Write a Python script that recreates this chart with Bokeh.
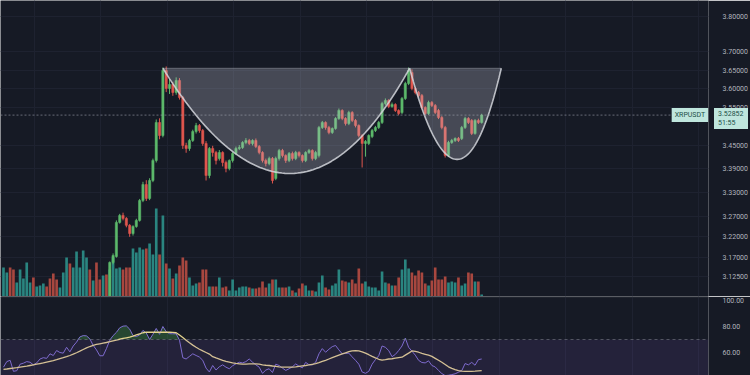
import numpy as np
from bokeh.plotting import figure
from bokeh.layouts import column
from bokeh.models import (Range1d, FixedTicker, PrintfTickFormatter, Label, Span,
                          BoxAnnotation, LinearScale, Div)
from bokeh.embed import file_html
from bokeh.resources import INLINE

# ---------------- data (XRPUSDT candles) ----------------
opens = [2.930, 2.938, 2.945, 2.936, 2.928, 2.934, 2.944, 2.950, 2.964, 2.969,
         2.961, 2.966, 2.974, 2.980, 2.975, 2.968, 2.962, 2.958, 2.965, 2.976,
         2.992, 2.984, 2.998, 3.018, 3.032, 3.052, 3.064, 3.050, 3.056, 3.044,
         3.038, 3.072, 3.066, 3.1585, 3.1727, 3.2551, 3.2722, 3.2649, 3.2478, 3.2280,
         3.2450, 3.2600, 3.3092, 3.3491, 3.3142, 3.3592, 3.4102, 3.5090, 3.4748, 3.6488,
         3.5998, 3.6107, 3.5890, 3.6215, 3.5755, 3.4488, 3.4410, 3.4618, 3.4853, 3.5011,
         3.4879, 3.4540, 3.3719, 3.4410, 3.4307, 3.4153, 3.4307, 3.4050, 3.3897, 3.4102,
         3.4281, 3.4410, 3.4436, 3.4566, 3.4618, 3.4540, 3.4618, 3.4462, 3.4307, 3.4102,
         3.4025, 3.4153, 3.3643, 3.4153, 3.4359, 3.4230, 3.4102, 3.4281, 3.4153, 3.4307,
         3.4230, 3.4102, 3.4307, 3.4359, 3.4153, 3.4230, 3.4958, 3.5090, 3.4958, 3.4827,
         3.4932, 3.5195, 3.5408, 3.5195, 3.5063, 3.5354, 3.5143, 3.5011, 3.4748, 3.4540,
         3.4540, 3.4722, 3.4879, 3.4958, 3.5090, 3.5594, 3.5675, 3.5514, 3.5568, 3.5408,
         3.5354, 3.5728, 3.6134, 3.6434, 3.5998, 3.5890, 3.5809, 3.5487, 3.5328, 3.5621,
         3.5541, 3.5408, 3.5222, 3.4958, 3.4230, 3.4566, 3.4618, 3.4670, 3.4670, 3.4958,
         3.5195, 3.5143, 3.4801, 3.5143, 3.5090]
highs = [2.942, 2.949, 2.948, 2.940, 2.938, 2.948, 2.954, 2.968, 2.973, 2.972,
         2.970, 2.978, 2.984, 2.984, 2.979, 2.972, 2.966, 2.969, 2.980, 2.996,
         2.996, 3.002, 3.022, 3.036, 3.056, 3.068, 3.068, 3.060, 3.060, 3.048,
         3.076, 3.076, 3.1610, 3.1800, 3.2600, 3.2760, 3.2790, 3.2680, 3.2510, 3.2480,
         3.2640, 3.3130, 3.3560, 3.3600, 3.3650, 3.4150, 3.5170, 3.5200, 3.6571, 3.6600,
         3.6250, 3.6180, 3.6300, 3.6280, 3.5800, 3.4560, 3.4660, 3.4900, 3.5080, 3.5050,
         3.4920, 3.4600, 3.4450, 3.4480, 3.4350, 3.4370, 3.4340, 3.4100, 3.4130, 3.4320,
         3.4460, 3.4500, 3.4600, 3.4680, 3.4660, 3.4650, 3.4670, 3.4500, 3.4340, 3.4150,
         3.4200, 3.4190, 3.4200, 3.4400, 3.4400, 3.4260, 3.4320, 3.4330, 3.4350, 3.4340,
         3.4260, 3.4340, 3.4400, 3.4390, 3.4350, 3.5000, 3.5130, 3.5120, 3.5000, 3.4960,
         3.5230, 3.5460, 3.5440, 3.5230, 3.5400, 3.5390, 3.5180, 3.5040, 3.4780, 3.4630,
         3.4780, 3.4920, 3.5000, 3.5130, 3.5640, 3.5730, 3.5710, 3.5620, 3.5600, 3.5440,
         3.5770, 3.6180, 3.6571, 3.6520, 3.6040, 3.5930, 3.5850, 3.5520, 3.5670, 3.5660,
         3.5580, 3.5450, 3.5260, 3.5000, 3.4610, 3.4660, 3.4700, 3.4710, 3.5000, 3.5240,
         3.5230, 3.5180, 3.5180, 3.5190, 3.5320]
lows = [2.926, 2.934, 2.932, 2.924, 2.924, 2.930, 2.940, 2.946, 2.960, 2.957,
        2.957, 2.962, 2.970, 2.971, 2.964, 2.958, 2.954, 2.954, 2.961, 2.972,
        2.980, 2.980, 2.994, 3.014, 3.028, 3.048, 3.046, 3.046, 3.040, 3.034,
        3.034, 3.062, 3.0620, 3.1540, 3.1700, 3.2520, 3.2600, 3.2430, 3.2200, 3.2230,
        3.2420, 3.2570, 3.3050, 3.3080, 3.3100, 3.3550, 3.4050, 3.4650, 3.4700, 3.5900,
        3.5850, 3.5800, 3.5830, 3.5700, 3.4400, 3.4300, 3.4350, 3.4580, 3.4800, 3.4820,
        3.4480, 3.3592, 3.3650, 3.4200, 3.4000, 3.4100, 3.3950, 3.3800, 3.3850, 3.4050,
        3.4240, 3.4370, 3.4400, 3.4520, 3.4500, 3.4490, 3.4420, 3.4260, 3.4050, 3.3950,
        3.3980, 3.3517, 3.3600, 3.4100, 3.4180, 3.4040, 3.4060, 3.4100, 3.4110, 3.4180,
        3.4050, 3.4060, 3.4270, 3.4100, 3.4110, 3.4180, 3.4920, 3.4900, 3.4780, 3.4790,
        3.4900, 3.5160, 3.5150, 3.5010, 3.5020, 3.5100, 3.4960, 3.4700, 3.3923, 3.4200,
        3.4500, 3.4680, 3.4840, 3.4920, 3.5050, 3.5550, 3.5470, 3.5480, 3.5370, 3.5280,
        3.5310, 3.5690, 3.6090, 3.5950, 3.5840, 3.5760, 3.5440, 3.5280, 3.5290, 3.5500,
        3.5310, 3.5180, 3.4910, 3.4178, 3.4190, 3.4530, 3.4580, 3.4580, 3.4630, 3.4920,
        3.5050, 3.4760, 3.4770, 3.5050, 3.5060]
closes = [2.938, 2.945, 2.936, 2.928, 2.934, 2.944, 2.950, 2.964, 2.969, 2.961,
          2.966, 2.974, 2.980, 2.975, 2.968, 2.962, 2.958, 2.965, 2.976, 2.992,
          2.984, 2.998, 3.018, 3.032, 3.052, 3.064, 3.050, 3.056, 3.044, 3.038,
          3.072, 3.066, 3.1585, 3.1751, 3.2551, 3.2722, 3.2649, 3.2478, 3.2280, 3.2450,
          3.2600, 3.3092, 3.3491, 3.3142, 3.3592, 3.4102, 3.5090, 3.4748, 3.6488, 3.5998,
          3.6107, 3.5890, 3.6215, 3.5755, 3.4488, 3.4410, 3.4618, 3.4853, 3.5011, 3.4879,
          3.4540, 3.3719, 3.4410, 3.4307, 3.4102, 3.4307, 3.4050, 3.3897, 3.4102, 3.4281,
          3.4410, 3.4436, 3.4566, 3.4618, 3.4540, 3.4618, 3.4462, 3.4307, 3.4102, 3.4025,
          3.4153, 3.3592, 3.4153, 3.4359, 3.4230, 3.4102, 3.4281, 3.4153, 3.4307, 3.4230,
          3.4102, 3.4307, 3.4359, 3.4153, 3.4307, 3.4958, 3.5090, 3.4958, 3.4827, 3.4932,
          3.5195, 3.5408, 3.5195, 3.5063, 3.5354, 3.5143, 3.5011, 3.4748, 3.4540, 3.4592,
          3.4748, 3.4879, 3.4958, 3.5090, 3.5594, 3.5675, 3.5514, 3.5568, 3.5408, 3.5328,
          3.5728, 3.6134, 3.6488, 3.5998, 3.5890, 3.5809, 3.5487, 3.5328, 3.5621, 3.5541,
          3.5354, 3.5222, 3.4958, 3.4230, 3.4566, 3.4618, 3.4670, 3.4618, 3.4958, 3.5195,
          3.5090, 3.4801, 3.5143, 3.5090, 3.52852]
volumes_m = [2.9, 2.4, 2.9, 2.7, 1.4, 2.7, 1.8, 3.4, 1.4, 1.9,
             1.0, 1.1, 1.3, 1.0, 1.8, 2.3, 1.7, 0.9, 2.4, 3.9,
             3.3, 2.9, 4.5, 2.9, 4.6, 3.9, 2.7, 1.6, 3.4, 1.7,
             2.1, 2.2, 2.7, 3.9, 2.8, 2.9, 2.7, 2.9, 2.9, 4.8,
             4.4, 4.9, 4.7, 4.8, 5.3, 4.2, 8.8, 4.2, 8.1, 3.3,
             2.8, 1.8, 2.3, 3.1, 3.9, 3.6, 1.9, 1.1, 1.3, 1.4,
             2.7, 2.7, 1.0, 1.0, 1.0, 1.9, 0.9, 1.0, 0.6, 1.7,
             0.6, 0.9, 1.0, 1.0, 0.9, 0.8, 0.8, 0.9, 1.5, 0.9,
             1.3, 1.7, 1.7, 0.9, 0.9, 0.9, 1.0, 0.6, 0.4, 0.8,
             1.3, 1.1, 0.6, 0.6, 0.5, 1.4, 2.1, 0.9, 0.7, 1.1,
             1.3, 2.7, 1.6, 1.5, 1.4, 1.7, 1.3, 2.8, 1.3, 1.5,
             1.0, 0.9, 0.9, 0.6, 2.5, 1.4, 1.3, 1.1, 1.1, 1.9,
             2.7, 3.7, 2.8, 2.4, 2.1, 2.6, 2.4, 1.3, 1.1, 1.6,
             2.9, 1.7, 1.7, 2.0, 1.4, 1.5, 1.4, 1.9, 1.1, 1.3,
             2.4, 2.3, 1.5, 1.5, 0.2]
rsi = [48.7, 53, 54, 45.5, 46, 51, 51.8, 53, 52.5, 50.5,
       52, 55, 56, 55.5, 59, 57.7, 61.5, 60, 59.5, 64,
       60.5, 65, 68, 72, 73, 72.8, 70.5, 65.5, 62, 57.5,
       57.5, 63, 69.5, 73, 75.5, 79, 80.3, 80.5, 78, 73,
       72.3, 73.5, 77, 75, 70, 74, 78.5, 74, 80, 76,
       74.5, 74.4, 74.4, 69.5, 56, 55, 57, 59, 57.7, 56.5,
       54, 48, 45, 50, 46.5, 49, 50.5, 48.7, 47.5, 49.8,
       51.3, 52.5, 52, 53, 55, 52.5, 50.5, 48.7, 44, 46.5,
       47.5, 44.6, 51, 50, 48, 46.2, 47.5, 49, 51.2, 49.5,
       48.2, 52.4, 50.6, 50.5, 52.5, 59, 63, 60.2, 62.5, 64.5,
       65.4, 62, 59, 59.3, 59.5, 56.6, 54, 51, 45, 44,
       45.5, 51, 54.5, 57.5, 65, 64, 61.5, 56.8, 58.5, 61.5,
       65, 71, 64, 61, 58, 54, 52.3, 52, 53.6, 50,
       48.9, 46.2, 43.8, 42.2, 42.5, 43, 43.6, 44.8, 46, 51.5,
       50.5, 52.4, 50.2, 54.5, 55]
rsi_ma = [47, 47.3, 47.7, 48, 48.3, 48.7, 49.1, 49.5, 50, 50.5,
          51, 51.5, 52, 52.6, 53.2, 53.8, 54.5, 55.3, 56, 56.8,
          57.7, 58.7, 59.8, 61, 62.3, 63.5, 64.6, 65.5, 66.2, 66.7,
          67.2, 67.7, 68.3, 69, 69.6, 70.2, 70.8, 71.3, 71.8, 72.6,
          73.5, 74.4, 75.2, 75.6, 75.6, 75.6, 75.6, 75.6, 75.6, 75.6,
          75.6, 75.5, 75.2, 73.5, 71.5, 69.5, 67.5, 65.7, 64, 62.5,
          61.2, 60, 58.8, 56.8, 55.8, 54.9, 54, 53.2, 52.6, 52,
          51.6, 51.3, 51, 51, 51.2, 51.3, 51.2, 51, 50.5, 50.2,
          50, 49.6, 49.3, 49, 48.8, 48.7, 48.7, 48.8, 49, 49.3,
          49.7, 50, 50.4, 50.9, 51.4, 52.2, 53.1, 54, 55, 56,
          57, 58, 59, 59.8, 60.6, 61.3, 61.5, 61.2, 60.5, 59.5,
          58.3, 57, 55.8, 54.8, 54.2, 54.5, 55, 55.2, 55.6, 56,
          56.4, 58, 59.5, 61.2, 60.8, 60.2, 59.3, 58.6, 57.9, 57,
          55.5, 54, 52.5, 50.8, 49, 47.8, 46.8, 46, 45.7, 45.5,
          45.5, 45.5, 45.6, 45.8, 46]

price_ticks = [3.80, 3.70, 3.65, 3.60, 3.55, 3.45, 3.39, 3.33, 3.27, 3.22, 3.17, 3.125]
rsi_ticks = [60, 80, 100]
time_grid_idx = [9.3, 29.3, 49.3, 69.3, 89.3, 109.3, 129.3, 149.3, 169.3, 189.3, 209.3]

# cup-and-handle drawing (two arc tools): start, bottom, end anchors
cup_idx = [48.0, 86.2, 122.3]
cup_price = [3.655, 3.377, 3.655]
handle_idx = [122.3, 136.6, 149.9]
handle_price = [3.655, 3.413, 3.655]

symbol = "XRPUSDT"
countdown = "51:55"

# ---------------- styling ----------------
BG = "#161a25"
GRID = "#1e2230"
UP, DOWN = "#5cb96b", "#e0564e"
VUP, VDOWN = "#2a8580", "#a8473f"
AXIS_TXT = "#b2b5be"
FONT = "Roboto"
TAG_BG, TAG_TXT = "#bfe6dd", "#1d4f47"

W, H1, H2 = 750, 296, 79
RIGHT = 40

n = len(opens)
idx = list(range(n))
up = [c >= o for o, c in zip(opens, closes)]
ccol = [UP if u else DOWN for u in up]
vcol = [VUP if u else VDOWN for u in up]
btop = [max(o, c) for o, c in zip(opens, closes)]
bbot = [min(o, c) for o, c in zip(opens, closes)]

xr = Range1d(-0.9, 212.3)
yr = Range1d(3.0787, 3.846)

p = figure(width=W, height=H1, output_backend="svg", toolbar_location=None,
           y_axis_type="log", x_range=xr, y_range=yr,
           y_axis_location="right", min_border_left=0, min_border_right=RIGHT,
           min_border_top=0, min_border_bottom=0,
           background_fill_color=BG, border_fill_color=BG, outline_line_color=None)
p.xaxis.visible = False
p.extra_y_ranges = {"vol": Range1d(0, 29.6)}
p.extra_y_scales = {"vol": LinearScale()}

p.xgrid.ticker = FixedTicker(ticks=time_grid_idx)
p.xgrid.grid_line_color = GRID
p.ygrid.ticker = FixedTicker(ticks=price_ticks)
p.ygrid.grid_line_color = GRID

ax = p.yaxis[0]
ax.ticker = FixedTicker(ticks=price_ticks)
ax.formatter = PrintfTickFormatter(format="%.5f")
ax.axis_line_color = None
ax.major_tick_line_color = None
ax.minor_tick_line_color = None
ax.major_label_standoff = 8
ax.major_label_text_color = AXIS_TXT
ax.major_label_text_font = FONT
ax.major_label_text_font_size = "7px"

# volume
p.vbar(x=idx, top=volumes_m, bottom=0, width=0.8, fill_color=vcol, line_color=None,
       y_range_name="vol")
# candles
p.segment(x0=idx, y0=highs, x1=idx, y1=lows, line_color=ccol, line_width=1)
p.vbar(x=idx, top=btop, bottom=bbot, width=0.68, fill_color=ccol, line_color=ccol,
       line_width=0.5)

# cup & handle arcs
def arc(ix, pr, m=80):
    P = np.array([[ix[0], np.log(pr[0])], [ix[1], np.log(pr[1])], [ix[2], np.log(pr[2])]])
    C = 2 * P[1] - 0.5 * (P[0] + P[2])
    t = np.linspace(0, 1, m)[:, None]
    B = (1 - t) ** 2 * P[0] + 2 * t * (1 - t) * C + t ** 2 * P[2]
    return list(B[:, 0]), list(np.exp(B[:, 1]))

cx1, cy1 = arc(cup_idx, cup_price)
cx2, cy2 = arc(handle_idx, handle_price)
p.patch(cx1 + cx2, cy1 + cy2, fill_color="#c9ccd6", fill_alpha=0.27, line_color=None)
p.line([cup_idx[0], handle_idx[2]], [cup_price[0], handle_price[2]],
       line_color="#c9ccd6", line_alpha=0.35, line_width=1)
p.line(cx1, cy1, line_color="#d4d6dc", line_alpha=0.85, line_width=1.6)
p.line(cx2, cy2, line_color="#d4d6dc", line_alpha=0.85, line_width=1.6)

last = closes[-1]
p.add_layout(Span(location=last, dimension="width", line_color="#9ea3ad",
                  line_alpha=0.6, line_dash="2 2", line_width=1))

p.add_layout(Label(x=212.2, y=last, text=symbol, text_align="right",
                   text_baseline="middle", text_font=FONT, text_font_size="7px",
                   text_color=TAG_TXT, background_fill_color=TAG_BG,
                   padding=3))

# price tag on the price scale (placed where the last price maps on the scale)
frac = (np.log(yr.end) - np.log(last)) / (np.log(yr.end) - np.log(yr.start))
tag_top = int(round(frac * H1)) - 7
tag = Div(text="%.5f<br>%s" % (last, countdown), width=34, height=21,
          styles={"position": "absolute", "left": "%dpx" % (W - 36),
                  "top": "%dpx" % tag_top, "background-color": TAG_BG,
                  "color": TAG_TXT, "font-size": "7px", "font-family": FONT,
                  "line-height": "8.5px", "padding": "2px 0 0 4px",
                  "box-sizing": "border-box", "z-index": "10", "margin": "0"})

# ---------------- RSI pane ----------------
q = figure(width=W, height=H2, output_backend="svg", toolbar_location=None,
           x_range=xr, y_range=Range1d(42.3, 103.1), y_axis_location="right",
           min_border_left=0, min_border_right=RIGHT, min_border_top=0,
           min_border_bottom=0, background_fill_color=BG, border_fill_color=BG,
           outline_line_color=None)
q.xaxis.visible = False
q.xgrid.ticker = FixedTicker(ticks=time_grid_idx)
q.xgrid.grid_line_color = GRID
q.ygrid.grid_line_color = None
qa = q.yaxis[0]
qa.ticker = FixedTicker(ticks=rsi_ticks)
qa.formatter = PrintfTickFormatter(format="%.2f")
qa.axis_line_color = None
qa.major_tick_line_color = None
qa.minor_tick_line_color = None
qa.major_label_standoff = 8
qa.major_label_text_color = AXIS_TXT
qa.major_label_text_font = FONT
qa.major_label_text_font_size = "7px"

q.add_layout(BoxAnnotation(bottom=30, top=70, fill_color="#7e57c2", fill_alpha=0.14,
                           line_color=None))
q.add_layout(Span(location=70, dimension="width", line_color="#787b86",
                  line_alpha=0.6, line_dash="3 3", line_width=1))
q.add_layout(Span(location=103.1, dimension="width", line_color="#2a2e39", line_width=2))
q.varea(x=idx, y1=[70] * n, y2=[max(r, 70) for r in rsi], fill_color="#4caf50",
        fill_alpha=0.3)
q.line(idx, rsi, line_color="#7e6fd0", line_width=1)
q.line(idx, rsi_ma, line_color="#e3d38e", line_width=1.3)

layout = column(p, q, tag, spacing=0)
open("out.html", "w").write(file_html(layout, INLINE))
